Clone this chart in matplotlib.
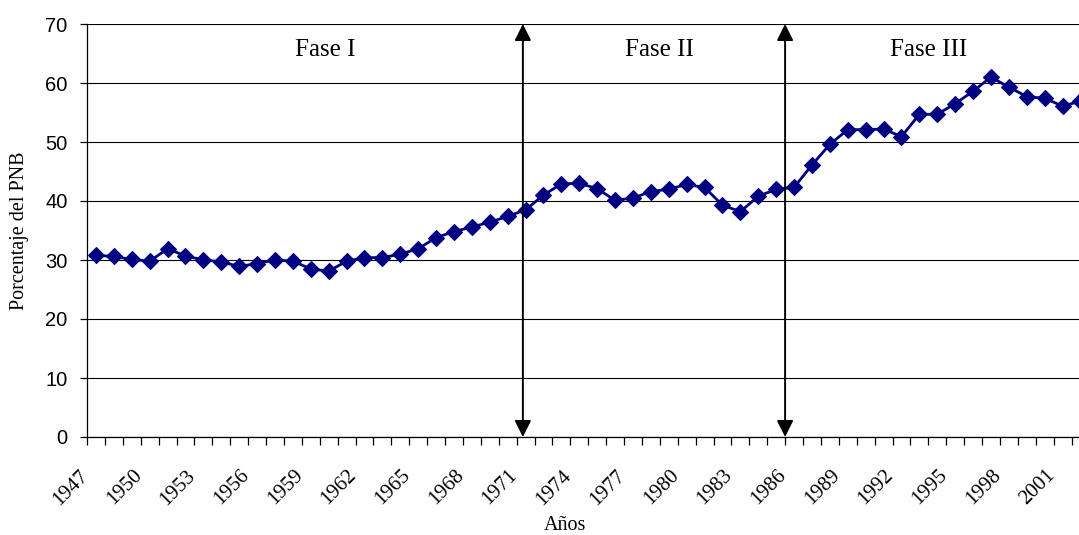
import matplotlib
matplotlib.use("Agg")
import matplotlib.pyplot as plt
import matplotlib.transforms as mtransforms
import numpy as np

years = list(range(1947, 2003))
values = [30.8, 30.6, 30.1, 29.8, 31.9, 30.7, 30.0, 29.7, 28.9, 29.4,
          30.0, 29.8, 28.5, 28.1, 29.8, 30.4, 30.4, 31.0, 31.9, 33.8,
          34.8, 35.6, 36.4, 37.4, 38.5, 41.0, 42.9, 43.0, 42.1, 40.1,
          40.5, 41.6, 42.0, 42.8, 42.3, 39.3, 38.2, 40.8, 42.0, 42.3,
          46.1, 49.6, 52.1, 52.1, 52.2, 50.9, 54.7, 54.7, 56.5, 58.6,
          61.0, 59.3, 57.7, 57.4, 56.1, 56.9]
label_years = list(range(1947, 2002, 3))
y_ticks = list(range(0, 80, 10))
phase_names = ["Fase I", "Fase II", "Fase III"]
phase_label_x = [1959.8, 1978.5, 1993.5]
phase_bounds = [1970.85, 1985.5]

serif = "Liberation Serif"
sans = "Liberation Sans"

fig = plt.figure(figsize=(10.79, 5.35), dpi=100)
ax = fig.add_axes([87 / 1079, 98 / 535, 992 / 1079, 413 / 535])

# serie principal
ax.plot(years, values, color="#000080", lw=2.0, marker="D", ms=7.8,
        mec="#000080", mew=0.8, zorder=4)

ax.set_xlim(1946.5, 1946.5 + 992 / 17.9)
ax.set_ylim(0, 70)

# rejilla horizontal
ax.set_yticks(y_ticks)
ax.yaxis.grid(True, color="black", lw=0.8)
ax.set_axisbelow(True)
for s in ["top", "right"]:
    ax.spines[s].set_visible(False)
ax.spines["left"].set_linewidth(0.9)
ax.spines["bottom"].set_linewidth(0.9)

ax.tick_params(axis="y", length=5, width=0.9, pad=9, labelsize=14.5)
for lab in ax.get_yticklabels():
    lab.set_fontfamily(sans)

# marcas entre categorias, etiquetas cada 3 años
ax.set_xticks(np.arange(1946.5, 2002, 1.0))
ax.set_xticklabels([])
ax.tick_params(axis="x", which="major", length=6, width=0.9)
ax.set_xticks(label_years, minor=True)
ax.set_xticklabels([str(y) for y in label_years], minor=True, rotation=45,
                   ha="right", va="top", fontfamily=serif, fontsize=15)
ax.tick_params(axis="x", which="minor", length=0, pad=21)
offset = mtransforms.ScaledTranslation(-4 / 100, 0, fig.dpi_scale_trans)
for lab in ax.get_xticklabels(minor=True):
    lab.set_transform(lab.get_transform() + offset)

# flechas de las fases
for xb in phase_bounds:
    ax.annotate("", xy=(xb, 70), xytext=(xb, 0),
                arrowprops=dict(arrowstyle="<|-|>", color="black", lw=1.4,
                                mutation_scale=25, shrinkA=0, shrinkB=0),
                zorder=5, annotation_clip=False)

for name, xp in zip(phase_names, phase_label_x):
    ax.text(xp, 64.6, name, ha="center", va="baseline",
            fontfamily=serif, fontsize=18)

fig.text(20 / 1079, 1 - 231 / 535, "Porcentaje del PNB", rotation=90,
         ha="center", va="center", fontfamily=serif, fontsize=14.5)
fig.text(565 / 1079, 1 - 526 / 535, "Años", ha="center", va="center",
         fontfamily=serif, fontsize=14.5)

fig.savefig("out.png", dpi=100)
